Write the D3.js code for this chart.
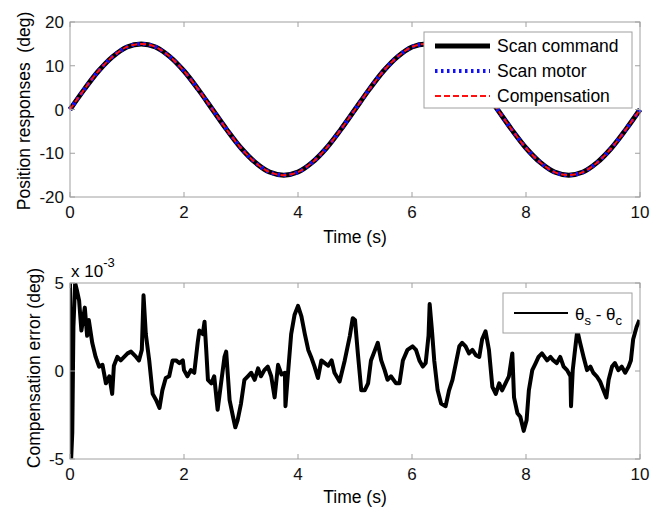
<!DOCTYPE html>
<html>
<head>
<meta charset="utf-8">
<script src="https://cdn.jsdelivr.net/npm/d3@7"></script>
<style>
  body { margin: 0; background: #fff; }
  svg { font-family: Arial, "Liberation Sans", sans-serif; }
</style>
</head>
<body>
<div id="chart"></div>
<script>
// ---- data ----
var posTime = [0,0.25,0.5,0.75,1,1.25,1.5,1.75,2,2.25,2.5,2.75,3,3.25,3.5,3.75,4,4.25,4.5,4.75,
               5,5.25,5.5,5.75,6,6.25,6.5,6.75,7,7.25,7.5,7.75,8,8.25,8.5,8.75,9,9.25,9.5,9.75,10];
var scanCommand = [0,4.6,8.8,12.1,14.3,15,14.3,12.1,8.8,4.6,0,-4.6,-8.8,-12.1,-14.3,-15,-14.3,-12.1,-8.8,-4.6,
                   0,4.6,8.8,12.1,14.3,15,14.3,12.1,8.8,4.6,0,-4.6,-8.8,-12.1,-14.3,-15,-14.3,-12.1,-8.8,-4.6,0];
var scanMotor = [0,4.6,8.8,12.1,14.3,15,14.3,12.1,8.8,4.6,0,-4.6,-8.8,-12.1,-14.3,-15,-14.3,-12.1,-8.8,-4.6,
                 0,4.6,8.8,12.1,14.3,15,14.3,12.1,8.8,4.6,0,-4.6,-8.8,-12.1,-14.3,-15,-14.3,-12.1,-8.8,-4.6,0];
var compensation = [0,4.6,8.8,12.1,14.3,15,14.3,12.1,8.8,4.6,0,-4.6,-8.8,-12.1,-14.3,-15,-14.3,-12.1,-8.8,-4.6,
                    0,4.6,8.8,12.1,14.3,15,14.3,12.1,8.8,4.6,0,-4.6,-8.8,-12.1,-14.3,-15,-14.3,-12.1,-8.8,-4.6,0];
var posLegend = ["Scan command", "Scan motor", "Compensation"];

// compensation error, units of 1e-3 deg
var errTime = [0,0.02,0.04,0.06,0.09,0.12,0.16,0.2,0.26,0.3,0.33,0.39,0.45,0.51,0.57,0.63,0.69,0.74,0.77,0.83,
  0.89,0.95,1.01,1.07,1.16,1.21,1.26,1.29,1.33,1.39,1.45,1.51,1.57,1.62,1.68,1.74,1.8,1.86,1.92,1.98,
  2.0,2.06,2.12,2.18,2.24,2.27,2.33,2.36,2.39,2.42,2.48,2.53,2.59,2.65,2.71,2.74,2.8,2.86,2.9,2.94,
  3.0,3.06,3.12,3.18,3.24,3.3,3.35,3.41,3.47,3.53,3.59,3.65,3.71,3.77,3.78,3.82,3.88,3.94,4.0,4.06,
  4.12,4.18,4.23,4.29,4.35,4.41,4.47,4.53,4.59,4.64,4.73,4.82,4.91,4.96,5.0,5.05,5.11,5.17,5.23,5.28,
  5.34,5.4,5.46,5.52,5.57,5.63,5.72,5.78,5.84,5.92,6.01,6.07,6.13,6.19,6.24,6.29,6.31,6.35,6.39,6.45,
  6.51,6.59,6.65,6.71,6.77,6.83,6.88,6.94,7.0,7.06,7.12,7.18,7.23,7.29,7.35,7.41,7.47,7.53,7.58,7.64,
  7.7,7.76,7.79,7.85,7.9,7.96,8.01,8.05,8.11,8.17,8.22,8.28,8.37,8.43,8.48,8.54,8.6,8.66,8.72,8.78,
  8.79,8.82,8.86,8.9,8.95,9.01,9.07,9.13,9.18,9.24,9.3,9.36,9.41,9.45,9.51,9.56,9.62,9.68,9.74,9.8,
  9.84,9.88,9.94,9.99];
var errValue = [5.0,-5.0,-3.5,2.5,5.0,4.6,4.0,2.3,3.6,2.0,2.9,1.6,0.8,0.25,0.35,-0.7,-0.3,-1.3,0.3,0.8,
  0.6,0.8,1.0,1.1,0.8,0.6,1.2,4.3,2.1,0.6,-1.3,-1.65,-2.1,-1.1,-0.4,-0.3,0.6,0.6,0.45,0.6,
  0.05,-0.3,0.05,-0.1,1.6,2.3,2.1,2.8,1.2,-0.5,-0.7,-0.3,-2.2,-0.7,0.8,1.1,-1.65,-2.6,-3.2,-2.8,
  -1.85,-0.5,-0.3,-0.1,-0.5,0.15,-0.3,0.05,0.25,-0.3,-1.5,0.35,-0.2,-0.1,-2.0,-0.3,2.1,3.2,3.7,3.1,
  2.1,1.2,0.8,0.25,-0.4,0.6,0.45,0.3,0.6,-0.1,-0.6,0.6,2.0,3.0,2.9,1.0,-1.1,-1.1,-0.7,0.6,
  1.1,1.6,0.6,0.05,-0.5,-0.3,-0.7,-0.7,0.6,1.2,1.4,1.2,0.6,0.25,0.45,2.0,3.8,2.3,0.6,-1.1,
  -1.85,-2.0,-1.1,-0.5,0.45,1.4,1.6,1.4,1.0,1.2,0.9,0.8,1.8,2.25,1.2,-0.9,-1.3,-0.7,-1.1,-0.7,
  -0.3,1.0,-1.5,-2.4,-2.6,-3.4,-2.8,-1.1,0.05,0.45,0.8,1.0,0.6,0.8,0.6,0.45,0.8,0.25,0.05,-0.3,
  -2.0,0.05,1.2,2.3,1.6,0.8,0.05,0.25,-0.1,-0.3,-0.6,-1.1,-1.5,-0.5,0.25,0.45,0.05,0.25,-0.1,0.25,
  0.6,1.8,2.5,2.9];

var xTicks = [0, 2, 4, 6, 8, 10];
var posTicks = [-20, -10, 0, 10, 20];
var errTicks = [-5, 0, 5];

// ---- layout ----
var W = 661, H = 509;
var left = 70, right = 640;
var frameColor = "#a0a0a0";

var svg = d3.select("#chart").append("svg")
    .attr("width", W)
    .attr("height", H);
svg.append("rect").attr("width", W).attr("height", H).attr("fill", "#fff");

var x = d3.scaleLinear().domain([0, 10]).range([left, right]);

// draws frame + inward ticks on all four sides
function drawFrame(g, y, yTicks, top, bottom) {
  g.append("rect")
      .attr("x", left).attr("y", top)
      .attr("width", right - left).attr("height", bottom - top)
      .attr("fill", "none").attr("stroke", frameColor).attr("stroke-width", 1);

  xTicks.forEach(function(t) {
    g.append("line").attr("x1", x(t)).attr("x2", x(t)).attr("y1", bottom).attr("y2", bottom - 5)
        .attr("stroke", frameColor);
    g.append("line").attr("x1", x(t)).attr("x2", x(t)).attr("y1", top).attr("y2", top + 5)
        .attr("stroke", frameColor);
    g.append("text").attr("x", x(t)).attr("y", bottom + 21)
        .attr("text-anchor", "middle").attr("font-size", 17).attr("fill", "#111")
        .text(t);
  });
  yTicks.forEach(function(t) {
    g.append("line").attr("x1", left).attr("x2", left + 5).attr("y1", y(t)).attr("y2", y(t))
        .attr("stroke", frameColor);
    g.append("line").attr("x1", right).attr("x2", right - 5).attr("y1", y(t)).attr("y2", y(t))
        .attr("stroke", frameColor);
    g.append("text").attr("x", left - 6).attr("y", y(t) + 6)
        .attr("text-anchor", "end").attr("font-size", 17).attr("fill", "#111")
        .text(t);
  });
}

// ---- top: position responses ----
var top1 = 22, bot1 = 197;
var y1 = d3.scaleLinear().domain([-20, 20]).range([bot1, top1]);
var g1 = svg.append("g");

var line1 = function(vals) {
  return d3.line()
      .x(function(d, i) { return x(posTime[i]); })
      .y(function(d) { return y1(d); })
      .curve(d3.curveCatmullRom)(vals);
};

g1.append("path").attr("d", line1(scanCommand))
    .attr("fill", "none").attr("stroke", "#000").attr("stroke-width", 5);
g1.append("path").attr("d", line1(scanMotor))
    .attr("fill", "none").attr("stroke", "#1010ff").attr("stroke-width", 4)
    .attr("stroke-dasharray", "2.5,3.5");
g1.append("path").attr("d", line1(compensation))
    .attr("fill", "none").attr("stroke", "#ff1010").attr("stroke-width", 2)
    .attr("stroke-dasharray", "6,3");

drawFrame(g1, y1, posTicks, top1, bot1);

g1.append("text").attr("x", 355).attr("y", 243)
    .attr("text-anchor", "middle").attr("font-size", 17.5).text("Time (s)");
g1.append("text")
    .attr("transform", "translate(30,111) rotate(-90)")
    .attr("text-anchor", "middle").attr("font-size", 17.5)
    .attr("xml:space", "preserve")
    .text("Position responses  (deg)");

// legend
var lg1 = g1.append("g");
lg1.append("rect").attr("x", 424).attr("y", 32).attr("width", 208).attr("height", 76)
    .attr("fill", "#fff").attr("stroke", frameColor);
var legStyles = [
  {c: "#000", w: 5, dash: null},
  {c: "#1010ff", w: 4, dash: "2.5,3.5"},
  {c: "#ff1010", w: 2, dash: "6,3"}
];
posLegend.forEach(function(name, i) {
  var yy = 46 + i * 25;
  lg1.append("line").attr("x1", 435).attr("x2", 490).attr("y1", yy).attr("y2", yy)
      .attr("stroke", legStyles[i].c).attr("stroke-width", legStyles[i].w)
      .attr("stroke-dasharray", legStyles[i].dash);
  lg1.append("text").attr("x", 497).attr("y", yy + 6).attr("font-size", 17.5).text(name);
});

// ---- bottom: compensation error ----
var top2 = 283, bot2 = 459;
var y2 = d3.scaleLinear().domain([-5, 5]).range([bot2, top2]);
var g2 = svg.append("g");

g2.append("clipPath").attr("id", "clip2").append("rect")
    .attr("x", left).attr("y", top2).attr("width", right - left).attr("height", bot2 - top2);

var line2 = d3.line()
    .x(function(d, i) { return x(errTime[i]); })
    .y(function(d) { return y2(d); });

g2.append("path").attr("d", line2(errValue))
    .attr("clip-path", "url(#clip2)")
    .attr("fill", "none").attr("stroke", "#000").attr("stroke-width", 4)
    .attr("stroke-linejoin", "round");

drawFrame(g2, y2, errTicks, top2, bot2);

g2.append("text").attr("x", 355).attr("y", 503)
    .attr("text-anchor", "middle").attr("font-size", 17.5).text("Time (s)");
g2.append("text")
    .attr("transform", "translate(40,368) rotate(-90)")
    .attr("text-anchor", "middle").attr("font-size", 17.5)
    .text("Compensation error (deg)");

// exponent label
var ex = g2.append("text").attr("x", 71).attr("y", 277).attr("font-size", 17);
ex.append("tspan").text("x 10");
ex.append("tspan").attr("dy", -10).attr("font-size", 13).text("-3");

// legend
var lg2 = g2.append("g");
lg2.append("rect").attr("x", 503).attr("y", 293).attr("width", 129).attr("height", 40)
    .attr("fill", "#fff").attr("stroke", frameColor);
lg2.append("line").attr("x1", 514).attr("x2", 568).attr("y1", 313).attr("y2", 313)
    .attr("stroke", "#000").attr("stroke-width", 2);
var lt = lg2.append("text").attr("x", 575).attr("y", 320).attr("font-size", 17)
    .attr("xml:space", "preserve");
lt.append("tspan").text("\u03b8");
lt.append("tspan").attr("dy", 5).attr("font-size", 13).text("s");
lt.append("tspan").attr("dy", -5).text(" - \u03b8");
lt.append("tspan").attr("dy", 5).attr("font-size", 13).text("c");
</script>
</body>
</html>
